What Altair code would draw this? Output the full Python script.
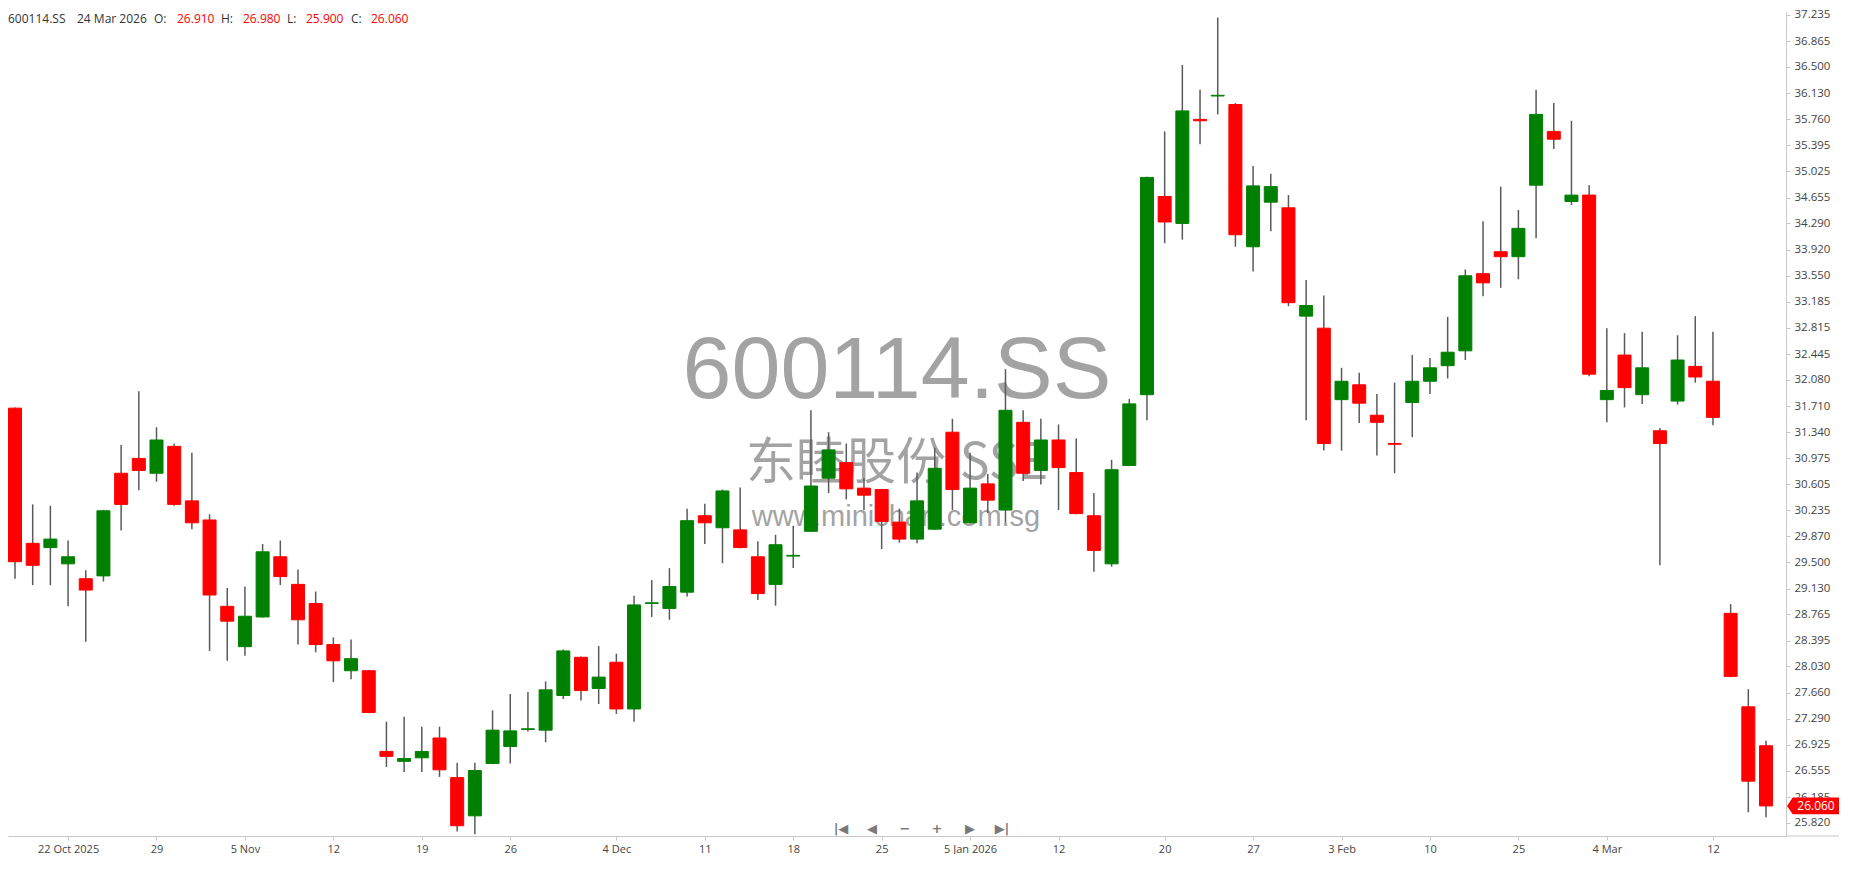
import altair as alt
import pandas as pd

# ---- OHLC values (600114.SS daily) ----
opens = [31.68, 29.77, 29.71, 29.48, 29.27, 29.31, 30.76, 30.97, 30.76, 31.14,
         30.37, 30.10, 28.88, 28.31, 28.73, 29.58, 29.19, 28.92, 28.34, 27.97,
         27.97, 26.83, 26.69, 26.74, 27.02, 26.46, 25.92, 26.66, 26.90, 27.14,
         27.13, 27.62, 28.16, 27.72, 28.09, 27.43, 28.92, 28.85, 29.08, 30.16,
         29.99, 29.96, 29.58, 29.19, 29.59, 29.94, 30.69, 30.91, 30.55, 30.53,
         30.07, 29.83, 29.97, 31.34, 30.06, 30.61, 30.24, 31.48, 30.80, 31.23,
         30.77, 30.16, 29.48, 30.87, 31.87, 34.67, 34.29, 35.76, 36.09, 35.97,
         33.96, 34.59, 34.51, 32.98, 32.81, 31.80, 32.01, 31.58, 31.18, 31.76,
         32.06, 32.28, 32.49, 33.58, 33.89, 33.82, 34.83, 35.59, 34.60, 34.69,
         31.80, 32.43, 31.87, 31.36, 31.78, 32.27, 32.06, 28.78, 27.46, 26.91]
highs = [31.69, 30.32, 30.30, 29.81, 29.39, 30.24, 31.16, 31.92, 31.41, 31.18,
         31.05, 30.18, 29.14, 29.16, 29.76, 29.81, 29.40, 29.09, 28.44, 28.41,
         27.98, 27.25, 27.32, 27.18, 27.18, 26.67, 26.67, 27.41, 27.64, 27.67,
         27.82, 28.27, 28.17, 28.32, 28.21, 29.03, 29.25, 29.42, 30.26, 30.33,
         30.53, 30.56, 29.80, 29.89, 30.02, 31.65, 31.34, 31.18, 30.69, 30.54,
         30.26, 30.77, 31.12, 31.53, 31.05, 30.75, 32.23, 31.65, 31.53, 31.45,
         31.25, 30.48, 30.95, 31.81, 34.95, 35.59, 36.53, 36.18, 37.20, 35.99,
         35.10, 34.99, 34.69, 33.49, 33.27, 32.25, 32.18, 31.88, 32.04, 32.43,
         32.39, 32.97, 33.64, 34.32, 34.81, 34.48, 36.18, 35.99, 35.74, 34.83,
         32.81, 32.74, 32.76, 31.40, 32.71, 32.98, 32.76, 28.91, 27.71, 26.98]
lows = [29.27, 29.18, 29.18, 28.88, 28.38, 29.23, 29.95, 30.52, 30.64, 30.30,
        29.97, 28.25, 28.11, 28.18, 28.72, 29.18, 28.34, 28.23, 27.81, 27.85,
        27.37, 26.61, 26.54, 26.54, 26.47, 25.70, 25.66, 26.65, 26.66, 27.11,
        26.96, 27.57, 27.55, 27.50, 27.36, 27.25, 28.73, 28.69, 29.02, 29.76,
        29.49, 29.70, 28.97, 28.89, 29.42, 29.93, 30.48, 30.39, 30.24, 29.69,
        29.78, 29.77, 29.96, 30.24, 30.05, 30.20, 30.06, 30.65, 30.60, 30.24,
        30.18, 29.37, 29.44, 30.86, 31.51, 34.01, 34.06, 35.41, 35.83, 33.96,
        33.61, 34.18, 33.12, 31.51, 31.08, 31.08, 31.47, 31.01, 30.76, 31.27,
        31.88, 32.10, 32.36, 33.26, 33.38, 33.50, 34.08, 35.34, 34.55, 32.13,
        31.48, 31.69, 31.74, 29.46, 31.73, 32.04, 31.44, 27.88, 25.97, 25.90]
closes = [29.51, 29.46, 29.83, 29.58, 29.11, 30.23, 30.32, 30.80, 31.23, 30.32,
          30.06, 29.04, 28.67, 28.74, 29.65, 29.30, 28.69, 28.34, 28.11, 28.14,
          27.38, 26.76, 26.73, 26.83, 26.57, 25.78, 26.56, 27.13, 27.12, 27.15,
          27.70, 28.25, 27.69, 27.88, 27.43, 28.90, 28.93, 29.16, 30.09, 30.06,
          30.51, 29.71, 29.06, 29.75, 29.60, 30.58, 31.09, 30.54, 30.45, 30.08,
          29.83, 30.37, 30.83, 30.53, 30.55, 30.38, 31.65, 30.76, 31.23, 30.84,
          30.19, 29.67, 30.81, 31.74, 34.94, 34.31, 35.88, 35.74, 36.10, 34.13,
          34.82, 34.81, 33.17, 33.13, 31.18, 32.06, 31.75, 31.48, 31.17, 32.06,
          32.25, 32.47, 33.55, 33.45, 33.82, 34.22, 35.83, 35.48, 34.69, 32.16,
          31.93, 31.97, 32.25, 31.18, 32.36, 32.12, 31.55, 27.89, 26.41, 26.06]

# x-axis tick labels (candle index -> label)
tick_idx = [3, 8, 13, 18, 23, 28, 34, 39, 44, 49, 54, 59, 65, 70, 75, 80, 85, 90, 96]
tick_lbl = ["22 Oct 2025", "29", "5 Nov", "12", "19", "26", "4 Dec", "11", "18", "25",
            "5 Jan 2026", "12", "20", "27", "3 Feb", "10", "25", "4 Mar", "12"]

# y-axis tick values
y_ticks = [37.235, 36.865, 36.500, 36.130, 35.760, 35.395, 35.025, 34.655, 34.290,
           33.920, 33.550, 33.185, 32.815, 32.445, 32.080, 31.710, 31.340, 30.975,
           30.605, 30.235, 29.870, 29.500, 29.130, 28.765, 28.395, 28.030, 27.660,
           27.290, 26.925, 26.555, 26.185, 25.820]

# header
symbol = "600114.SS"
last_date = "24 Mar 2026"
header_keys = ["O:", "H:", "L:", "C:"]
header_vals = ["26.910", "26.980", "25.900", "26.060"]

df = pd.DataFrame({
    "i": list(range(len(opens))),
    "open": opens, "high": highs, "low": lows, "close": closes,
})
df["dir"] = ["up" if c >= o else "down" for o, c in zip(opens, closes)]

W, H = 1778, 824
FONT = "Open Sans"

label_expr = " : ".join(
    f"datum.value == {k} ? '{v}'" for k, v in zip(tick_idx, tick_lbl)
) + " : ''"

xscale = alt.Scale(domain=[-0.396, 100.13], nice=False, zero=False, padding=0)
yscale = alt.Scale(domain=[25.635, 37.277], nice=False, zero=False, padding=0)

xaxis = alt.Axis(values=tick_idx, labelExpr=label_expr, title=None, grid=False,
                 labelOverlap=False, labelFlush=False, tickSize=4, labelPadding=3,
                 labelFontSize=11, labelColor="#444444", labelFont=FONT,
                 domainColor="#c8c8c8", tickColor="#c8c8c8")
yaxis = alt.Axis(orient="right", values=y_ticks, format=".3f", title=None, grid=False,
                 labelOverlap=False, labelFlush=False, tickSize=4, labelPadding=4,
                 labelFontSize=11.5, labelColor="#444444", labelFont=FONT,
                 domainColor="#c8c8c8", tickColor="#c8c8c8")

base = alt.Chart(df)

# watermark
wm1 = alt.Chart(pd.DataFrame({"t": [symbol]})).mark_text(
    font="Liberation Sans", fontSize=88, color="#a3a3a3",
    align="center", baseline="alphabetic").encode(
    text="t:N", x=alt.value(889), y=alt.value(386))
wm2 = alt.Chart(pd.DataFrame({"t": ["东睦股份.SSE"]})).mark_text(
    font="Noto Sans CJK SC", fontSize=50, color="#a3a3a3",
    align="center", baseline="alphabetic").encode(
    text="t:N", x=alt.value(889), y=alt.value(467))
wm3 = alt.Chart(pd.DataFrame({"t": ["www.minichart.com.sg"]})).mark_text(
    font="Liberation Sans", fontSize=29, color="#a3a3a3",
    align="center", baseline="alphabetic").encode(
    text="t:N", x=alt.value(888), y=alt.value(514))

wicks = base.mark_rule(color="#5a5a5a", strokeWidth=1.5).encode(
    x=alt.X("i:Q", scale=xscale, axis=xaxis),
    y=alt.Y("low:Q", scale=yscale, axis=yaxis),
    y2="high:Q",
)
bodies = base.mark_bar(size=13, strokeWidth=1).encode(
    x=alt.X("i:Q", scale=xscale, axis=xaxis),
    y=alt.Y("open:Q", scale=yscale, axis=yaxis),
    y2="close:Q",
    color=alt.Color("dir:N", scale=alt.Scale(domain=["up", "down"],
                                             range=["#008000", "#ff0000"]), legend=None),
    stroke=alt.Stroke("dir:N", scale=alt.Scale(domain=["up", "down"],
                                               range=["#008000", "#ff0000"]), legend=None),
)

# bottom axis line extension under the price labels
axis_ext = alt.Chart(pd.DataFrame({"a": [0]})).mark_rule(color="#c8c8c8").encode(
    x=alt.value(W), x2=alt.value(W + 53), y=alt.value(H))

# last price tag
tag_df = pd.DataFrame({"close": [closes[-1]], "lbl": [f"{closes[-1]:.3f}"]})
tag_shape = "M-1,0L-0.78,-0.32L1,-0.32L1,0.32L-0.78,0.32Z"
tag_bg = alt.Chart(tag_df).mark_point(shape=tag_shape, filled=True, color="#ff0000",
                                      opacity=1, size=2704, strokeWidth=0).encode(
    x=alt.value(W + 27), y=alt.Y("close:Q", scale=yscale, axis=yaxis))
tag_txt = alt.Chart(tag_df).mark_text(color="white", font=FONT, fontSize=12,
                                      align="center", baseline="middle").encode(
    x=alt.value(W + 30), y=alt.Y("close:Q", scale=yscale, axis=yaxis), text="lbl:N")

# header text
hdr_layers = []
pieces = [(symbol, 0, "#333333"), (last_date, 69, "#333333")]
kx = [146, 213, 279, 343]
vx = [169, 235, 298, 363]
for k, v, a, b in zip(header_keys, header_vals, kx, vx):
    pieces.append((k, a, "#333333"))
    pieces.append((v, b, "#ff0000"))
for txt, px, col in pieces:
    hdr_layers.append(
        alt.Chart(pd.DataFrame({"t": [txt]})).mark_text(
            font=FONT, fontSize=12, color=col, align="left", baseline="middle").encode(
            text="t:N", x=alt.value(px), y=alt.value(7)))

# navigation controls
nav = ["|◀", "◀", "−", "+", "▶", "▶|"]
nav_x = [833, 864, 897, 929, 962, 994]
nav_layers = [
    alt.Chart(pd.DataFrame({"t": [g]})).mark_text(
        font="DejaVu Sans", fontSize=13, fontWeight="bold", color="#7a7a7a",
        align="center", baseline="middle").encode(
        text="t:N", x=alt.value(px), y=alt.value(817))
    for g, px in zip(nav, nav_x)
]

chart = alt.layer(wm1, wm2, wm3, wicks, bodies, axis_ext, tag_bg, tag_txt,
                  *hdr_layers, *nav_layers).properties(
    width=W, height=H, padding=0, background="white"
).configure_view(stroke=None)

chart.save("out.html", embed_options={"renderer": "svg", "actions": False})
